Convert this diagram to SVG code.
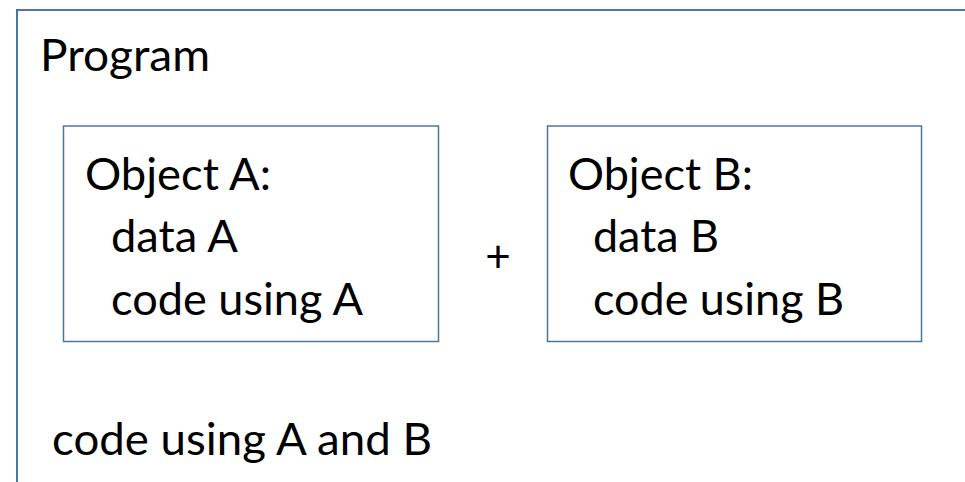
<svg xmlns="http://www.w3.org/2000/svg" width="965" height="482" viewBox="0 0 965 482">
<style>
.frame{fill:none;stroke:#4E74A6;stroke-width:2}
.box{fill:#fff;stroke:#4E74A6;stroke-width:1.5}
.t{font-family:Lato,"Open Sans","Liberation Sans",sans-serif;font-size:44px;fill:#000}
</style>
<rect width="965" height="482" fill="#fff"/>
<g id="program">
<rect class="frame" x="17" y="10" width="960" height="490"/>
<text class="t" x="40" y="71" textLength="170" lengthAdjust="spacingAndGlyphs">Program</text>
<text class="t" x="52" y="455" textLength="380" lengthAdjust="spacingAndGlyphs">code using A and B</text>
</g>
<g id="objectA">
<rect class="box" x="63.5" y="126" width="375" height="215.5"/>
<text class="t" x="85" y="190" textLength="186" lengthAdjust="spacingAndGlyphs">Object A:</text>
<text class="t" x="111" y="252" textLength="127" lengthAdjust="spacingAndGlyphs">data A</text>
<text class="t" x="111" y="315" textLength="252" lengthAdjust="spacingAndGlyphs">code using A</text>
</g>
<g id="plus">
<text class="t" x="498" y="272" text-anchor="middle">+</text>
</g>
<g id="objectB">
<rect class="box" x="547.5" y="126" width="374" height="215.5"/>
<text class="t" x="568" y="190" textLength="185" lengthAdjust="spacingAndGlyphs">Object B:</text>
<text class="t" x="593" y="252" textLength="126" lengthAdjust="spacingAndGlyphs">data B</text>
<text class="t" x="593" y="315" textLength="251" lengthAdjust="spacingAndGlyphs">code using B</text>
</g>
<g id="connectors"></g>
</svg>
